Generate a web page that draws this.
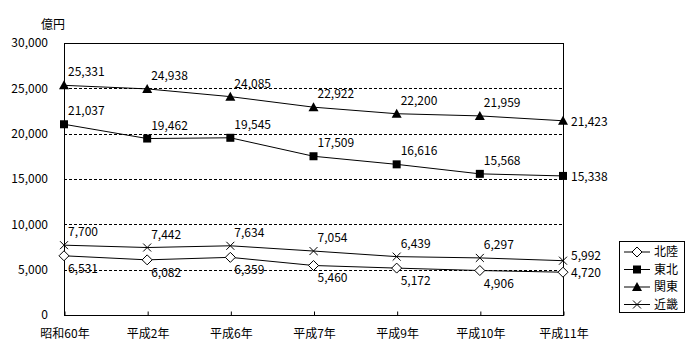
<!DOCTYPE html>
<html>
<head>
<meta charset="utf-8">
<script src="https://cdn.jsdelivr.net/npm/d3@7"></script>
<style>
  body { margin: 0; background: #fff; }
  text { font-family: "Noto Sans CJK JP", sans-serif; font-size: 12px; fill: #000; }
</style>
</head>
<body>
<div id="chart"></div>
<script>
// years along the x axis
const years = ['昭和60年', '平成2年', '平成6年', '平成7年', '平成9年', '平成10年', '平成11年']

// values in 億円
const hokuriku = [6531, 6082, 6359, 5460, 5172, 4906, 4720]
const tohoku = [21037, 19462, 19545, 17509, 16616, 15568, 15338]
const kanto = [25331, 24938, 24085, 22922, 22200, 21959, 21423]
const kinki = [7700, 7442, 7634, 7054, 6439, 6297, 5992]

const seriesNames = ['北陸', '東北', '関東', '近畿']
const yTicks = [0, 5000, 10000, 15000, 20000, 25000, 30000]

// label placement: below the point for 北陸, the last label sits to the right
const series = [
  { name: seriesNames[0], values: hokuriku, marker: 'diamond', labelDy: 17, lastDy: 5 },
  { name: seriesNames[1], values: tohoku, marker: 'square', labelDy: -9, lastDy: 5 },
  { name: seriesNames[2], values: kanto, marker: 'triangle', labelDy: -9, lastDy: 5 },
  { name: seriesNames[3], values: kinki, marker: 'cross', labelDy: -9, lastDy: -1 }
]

let margin = { top: 43, left: 64, right: 137, bottom: 45 }
let width = 700 - margin.left - margin.right
let height = 360 - margin.top - margin.bottom

const root = d3
  .select('#chart')
  .append('svg')
  .attr('width', 700)
  .attr('height', 360)

const svg = root
  .append('g')
  .attr('transform', 'translate(' + margin.left + ',' + margin.top + ')')

var xPositionScale = d3
  .scalePoint()
  .domain(years)
  .range([0, width])
  .padding(0)

var yPositionScale = d3
  .scaleLinear()
  .domain([0, 30000])
  .range([height, 0])

// dotted gridlines
svg
  .selectAll('.grid')
  .data(yTicks.filter(d => d > 0 && d < 30000))
  .enter()
  .append('line')
  .attr('x1', 0)
  .attr('x2', width)
  .attr('y1', d => Math.round(yPositionScale(d)) + 0.5)
  .attr('y2', d => Math.round(yPositionScale(d)) + 0.5)
  .attr('stroke', '#000')
  .attr('stroke-dasharray', '3,2')

// plot frame
svg
  .append('rect')
  .attr('x', 0.5)
  .attr('y', 0.5)
  .attr('width', width)
  .attr('height', height)
  .attr('fill', 'none')
  .attr('stroke', '#000')

// y axis labels
const yAxis = d3
  .axisLeft(yPositionScale)
  .tickValues(yTicks)
  .tickSize(0)
  .tickPadding(16)
  .tickFormat(d3.format(','))
svg
  .append('g')
  .call(yAxis)
  .call(g => g.select('.domain').remove())
  .selectAll('text')
  .attr('font-family', null)
  .attr('font-size', null)

// x axis, ticks point up into the plot
const xAxis = d3
  .axisBottom(xPositionScale)
  .tickSize(-4)
  .tickPadding(14)
svg
  .append('g')
  .attr('transform', 'translate(0.5,' + (height + 0.5) + ')')
  .call(xAxis)
  .call(g => g.select('.domain').remove())
  .call(g => g.selectAll('line').attr('stroke', '#000'))
  .selectAll('text')
  .attr('font-family', null)
  .attr('font-size', null)

root
  .append('text')
  .attr('x', 41)
  .attr('y', 29)
  .text('億円')

function drawMarker(g, type) {
  if (type === 'diamond') {
    g.append('path')
      .attr('d', 'M0,-5L5,0L0,5L-5,0Z')
      .attr('fill', '#fff')
      .attr('stroke', '#000')
  } else if (type === 'square') {
    g.append('rect')
      .attr('x', -4)
      .attr('y', -4)
      .attr('width', 8)
      .attr('height', 8)
      .attr('fill', '#000')
  } else if (type === 'triangle') {
    g.append('path')
      .attr('d', 'M0,-5L5,4L-5,4Z')
      .attr('fill', '#000')
  } else {
    g.append('path')
      .attr('d', 'M-4,-4L4,4M4,-4L-4,4')
      .attr('stroke', '#000')
  }
}

var line = d3
  .line()
  .x((d, i) => xPositionScale(years[i]))
  .y(d => yPositionScale(d))

series.forEach(s => {
  svg
    .append('path')
    .datum(s.values)
    .attr('d', line)
    .attr('fill', 'none')
    .attr('stroke', '#000')
    .attr('stroke-width', 1)

  s.values.forEach((v, i) => {
    const g = svg
      .append('g')
      .attr('transform', 'translate(' + xPositionScale(years[i]) + ',' + yPositionScale(v) + ')')
    drawMarker(g, s.marker)

    const last = i === years.length - 1
    g.append('text')
      .attr('x', last ? 8 : 4)
      .attr('y', last ? s.lastDy : s.labelDy)
      .text(d3.format(',')(v))
  })
})

// legend
const legend = root
  .append('g')
  .attr('transform', 'translate(619,241)')

legend
  .append('rect')
  .attr('x', 0.5)
  .attr('y', 0.5)
  .attr('width', 65)
  .attr('height', 71)
  .attr('fill', '#fff')
  .attr('stroke', '#000')

series.forEach((s, i) => {
  const row = legend
    .append('g')
    .attr('transform', 'translate(0,' + (11 + i * 17.5) + ')')
  row
    .append('line')
    .attr('x1', 5)
    .attr('x2', 31)
    .attr('stroke', '#000')
  drawMarker(row.append('g').attr('transform', 'translate(18,0)'), s.marker)
  row
    .append('text')
    .attr('x', 35)
    .attr('y', 4)
    .text(s.name)
})
</script>
</body>
</html>
